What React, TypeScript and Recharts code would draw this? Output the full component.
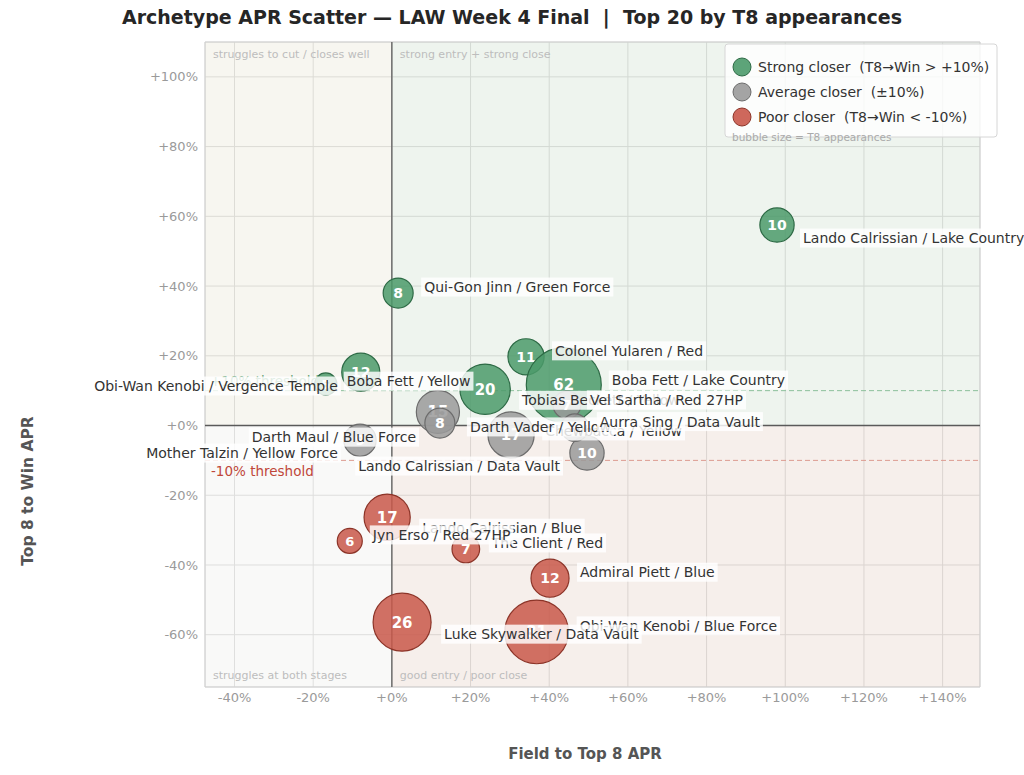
import React from 'react'
import { ScatterChart, Scatter, XAxis, YAxis, CartesianGrid, ReferenceArea, ReferenceLine } from 'recharts'

const archetypes = [
  'Lando Calrissian / Lake Country',
  'Qui-Gon Jinn / Green Force',
  'Colonel Yularen / Red',
  'Boba Fett / Lake Country',
  'Tobias Beckett / Yellow',
  'Boba Fett / Yellow',
  'Obi-Wan Kenobi / Vergence Temple',
  'Chewbacca / Yellow',
  'Darth Vader / Yellow',
  'Mother Talzin / Yellow Force',
  'Lando Calrissian / Data Vault',
  'Darth Maul / Blue Force',
  'Vel Sartha / Red 27HP',
  'Aurra Sing / Data Vault',
  'Lando Calrissian / Blue',
  'The Client / Red',
  'Jyn Erso / Red 27HP',
  'Admiral Piett / Blue',
  'Obi-Wan Kenobi / Blue Force',
  'Luke Skywalker / Data Vault',
]
// Field -> Top 8 APR (%)
const fieldToTop8 = [97.9, 1.6, 34.1, 43.7, 23.7, -7.9, -16.8, 30.3, 11.7, 12.2, 49.6, -8.1, 44.5, 46.5, -1.2, 18.8, -10.7, 40.2, 36.8, 2.6]
// Top 8 -> Win APR (%)
const top8ToWin = [57.5, 38.0, 19.7, 11.6, 10.4, 15.3, 11.9, -2.7, 3.9, 0.7, -7.9, -4.2, 5.9, -0.6, -26.3, -35.4, -33.1, -43.8, -59.2, -56.4]
const t8Appearances = [10, 8, 11, 62, 20, 12, 5, 17, 15, 8, 10, 9, 7, 7, 17, 7, 6, 12, 31, 26]

const xTicks = [-40, -20, 0, 20, 40, 60, 80, 100, 120, 140]
const yTicks = [-60, -40, -20, 0, 20, 40, 60, 80, 100]
const legendLabels = ['Strong closer  (T8\u2192Win > +10%)', 'Average closer  (\u00b110%)', 'Poor closer  (T8\u2192Win < -10%)']

const X_DOMAIN: [number, number] = [-47.5, 149.5]
const Y_DOMAIN: [number, number] = [-75, 110]
const FONT = "'DejaVu Sans', sans-serif"
const TAG_SIZE = 14

const tierColor: Record<string, { fill: string; edge: string }> = {
  strong: { fill: '#4b9a6a', edge: '#2d6a45' },
  average: { fill: '#9a9a9a', edge: '#6c6c6c' },
  poor: { fill: '#c9584a', edge: '#8c3428' },
}
const tiers = ['strong', 'average', 'poor']

// where each name tag sits relative to its bubble (pixels), like a repelled label
const labelNudge: Record<string, [number, number, 'start' | 'end']> = {
  'Lando Calrissian / Lake Country': [26, 13, 'start'],
  'Qui-Gon Jinn / Green Force': [26, -6, 'start'],
  'Colonel Yularen / Red': [29, -6, 'start'],
  'Boba Fett / Lake Country': [48, -5, 'start'],
  'Tobias Beckett / Yellow': [37, 11, 'start'],
  'Boba Fett / Yellow': [-14, 9, 'start'],
  'Obi-Wan Kenobi / Vergence Temple': [12, 2, 'end'],
  'Chewbacca / Yellow': [171, -4, 'end'],
  'Darth Vader / Yellow': [32, 15, 'start'],
  'Mother Talzin / Yellow Force': [-102, 30, 'end'],
  'Lando Calrissian / Data Vault': [-27, 13, 'end'],
  'Darth Maul / Blue Force': [56, -3, 'end'],
  'Vel Sartha / Red 27HP': [23, -5, 'start'],
  'Aurra Sing / Data Vault': [25, -6, 'start'],
  'Lando Calrissian / Blue': [35, 11, 'start'],
  'The Client / Red': [26, -6, 'start'],
  'Jyn Erso / Red 27HP': [23, -6, 'start'],
  'Admiral Piett / Blue': [30, -6, 'start'],
  'Obi-Wan Kenobi / Blue Force': [43, -6, 'start'],
  'Luke Skywalker / Data Vault': [42, 12, 'start'],
}

const points = archetypes.map((name, i) => ({
  name,
  x: fieldToTop8[i],
  y: top8ToWin[i],
  n: t8Appearances[i],
  tier: top8ToWin[i] > 10 ? 'strong' : top8ToWin[i] < -10 ? 'poor' : 'average',
}))

const bubbleRadius = (n: number) => Math.min(Math.sqrt(Math.max(34.25 * n - 49, 60)), 37.5)

let ctx: CanvasRenderingContext2D | null = null
const textWidth = (s: string, font: string) => {
  if (!ctx) ctx = document.createElement('canvas').getContext('2d')
  if (!ctx) return s.length * 7.5
  ctx.font = font
  return ctx.measureText(s).width
}

const fmtPct = (v: number) => (v >= 0 ? `+${v}%` : `${v}%`)

const Bubble = (props: any) => {
  const { cx, cy, payload } = props
  if (cx == null || cy == null) return null
  const r = bubbleRadius(payload.n)
  const c = tierColor[payload.tier]
  return (
    <g>
      <circle cx={cx} cy={cy} r={r} fill={c.fill} fillOpacity={0.85} stroke={c.edge} strokeWidth={1.2} />
      <text x={cx} y={cy} dy="0.36em" textAnchor="middle" fill="#fff" fontWeight="bold" fontSize={r > 20 ? 15 : r > 13 ? 14 : 13} fontFamily={FONT}>
        {payload.n}
      </text>
    </g>
  )
}

const NameTag = (props: any) => {
  const { cx, cy, payload } = props
  if (cx == null || cy == null) return null
  const nudge = labelNudge[payload.name] ?? [bubbleRadius(payload.n) + 12, 0, 'start']
  const [dx, dy, anchor] = nudge
  const w = textWidth(payload.name, `${TAG_SIZE}px ${FONT}`)
  const tx = cx + dx
  const ty = cy + dy
  const left = anchor === 'end' ? tx - w : tx
  return (
    <g>
      <rect x={left - 3} y={ty - 9.5} width={w + 6} height={19} fill="#fff" fillOpacity={0.82} />
      <text x={tx} y={ty} dy="0.36em" textAnchor={anchor} fontSize={TAG_SIZE} fill="#333" fontFamily={FONT}>
        {payload.name}
      </text>
    </g>
  )
}

const cornerLabel = (value: string, position: string) => ({
  value,
  position,
  offset: 8,
  fill: '#bdbdbd',
  fontSize: 11,
  fontFamily: FONT,
})

export default function App() {
  return (
    <div style={{ position: 'absolute', left: 0, top: 0, width: 1024, height: 775, background: '#fff', fontFamily: FONT }}>
      <ScatterChart width={1024} height={775} margin={{ top: 42, right: 44, bottom: 0, left: 0 }}>
        <ReferenceArea x1={X_DOMAIN[0]} x2={0} y1={0} y2={Y_DOMAIN[1]} fill="#b0a46c" fillOpacity={0.1} stroke="none" label={cornerLabel('struggles to cut / closes well', 'insideTopLeft') as any} />
        <ReferenceArea x1={0} x2={X_DOMAIN[1]} y1={0} y2={Y_DOMAIN[1]} fill="#559155" fillOpacity={0.1} stroke="none" label={cornerLabel('strong entry + strong close', 'insideTopLeft') as any} />
        <ReferenceArea x1={X_DOMAIN[0]} x2={0} y1={Y_DOMAIN[0]} y2={0} fill="#c3c3b9" fillOpacity={0.1} stroke="none" label={cornerLabel('struggles at both stages', 'insideBottomLeft') as any} />
        <ReferenceArea x1={0} x2={X_DOMAIN[1]} y1={Y_DOMAIN[0]} y2={0} fill="#a5603c" fillOpacity={0.1} stroke="none" label={cornerLabel('good entry / poor close', 'insideBottomLeft') as any} />
        <CartesianGrid stroke="#e2e2e2" strokeWidth={1} />
        <XAxis
          type="number"
          dataKey="x"
          domain={X_DOMAIN}
          ticks={xTicks}
          tickFormatter={fmtPct}
          axisLine={false}
          tickLine={false}
          tickSize={0}
          tickMargin={6}
          height={88}
          tick={{ fill: '#9a9a9a', fontSize: 13, fontFamily: FONT }}
        />
        <YAxis
          type="number"
          dataKey="y"
          domain={Y_DOMAIN}
          ticks={yTicks}
          tickFormatter={fmtPct}
          axisLine={false}
          tickLine={false}
          tickSize={0}
          tickMargin={7}
          width={205}
          tick={{ fill: '#9a9a9a', fontSize: 13, fontFamily: FONT }}
        />
        <ReferenceArea x1={X_DOMAIN[0]} x2={X_DOMAIN[1]} y1={Y_DOMAIN[0]} y2={Y_DOMAIN[1]} fill="none" stroke="#cfcfcf" strokeWidth={1} />
        <ReferenceLine x={0} stroke="#5a5a5a" strokeWidth={1.3} />
        <ReferenceLine y={0} stroke="#5a5a5a" strokeWidth={1.3} />
        <ReferenceLine
          y={10}
          stroke="#8cbf9b"
          strokeWidth={1}
          strokeDasharray="5 3"
          label={{ value: '+10% threshold', position: 'insideBottomLeft', offset: 5, fill: '#5f9f72', fontSize: 13.5, fontFamily: FONT } as any}
        />
        <ReferenceLine
          y={-10}
          stroke="#dc9b90"
          strokeWidth={1}
          strokeDasharray="5 3"
          label={{ value: '-10% threshold', position: 'insideTopLeft', offset: 6, fill: '#c0473a', fontSize: 13.5, fontFamily: FONT } as any}
        />
        <Scatter data={points} shape={(p: any) => <Bubble {...p} />} isAnimationActive={false} />
        <Scatter data={points} shape={(p: any) => <NameTag {...p} />} isAnimationActive={false} {...({ zIndex: 2600 } as any)} />
      </ScatterChart>
      <svg width={1024} height={775} style={{ position: 'absolute', left: 0, top: 0, pointerEvents: 'none' }}>
        <text x={512} y={17} dy="0.36em" textAnchor="middle" fontSize={19} fontWeight="bold" fill="#262626" fontFamily={FONT} style={{ whiteSpace: 'pre' }}>
          {'Archetype APR Scatter \u2014 LAW Week 4 Final  |  Top 20 by T8 appearances'}
        </text>
        <text x={585} y={754} dy="0.36em" textAnchor="middle" fontSize={15} fontWeight="bold" fill="#555" fontFamily={FONT}>
          Field to Top 8 APR
        </text>
        <text x={27} y={491} dy="0.36em" textAnchor="middle" fontSize={15.5} fontWeight="bold" fill="#555" fontFamily={FONT} transform="rotate(-90 27 491)">
          Top 8 to Win APR
        </text>
        <rect x={725} y={44} width={272} height={93} rx={3} fill="#fff" fillOpacity={0.8} stroke="#d6d6d6" />
        {legendLabels.map((label, i) => (
          <g key={label}>
            <circle cx={742} cy={67 + i * 25} r={9} fill={tierColor[tiers[i]].fill} fillOpacity={0.9} stroke={tierColor[tiers[i]].edge} strokeWidth={1} />
            <text x={758} y={67 + i * 25} dy="0.36em" fontSize={14} fill="#333" fontFamily={FONT} style={{ whiteSpace: 'pre' }}>
              {label}
            </text>
          </g>
        ))}
        <text x={732} y={137} dy="0.36em" fontSize={10.5} fill="#aaa" fontFamily={FONT}>
          bubble size = T8 appearances
        </text>
      </svg>
    </div>
  )
}
